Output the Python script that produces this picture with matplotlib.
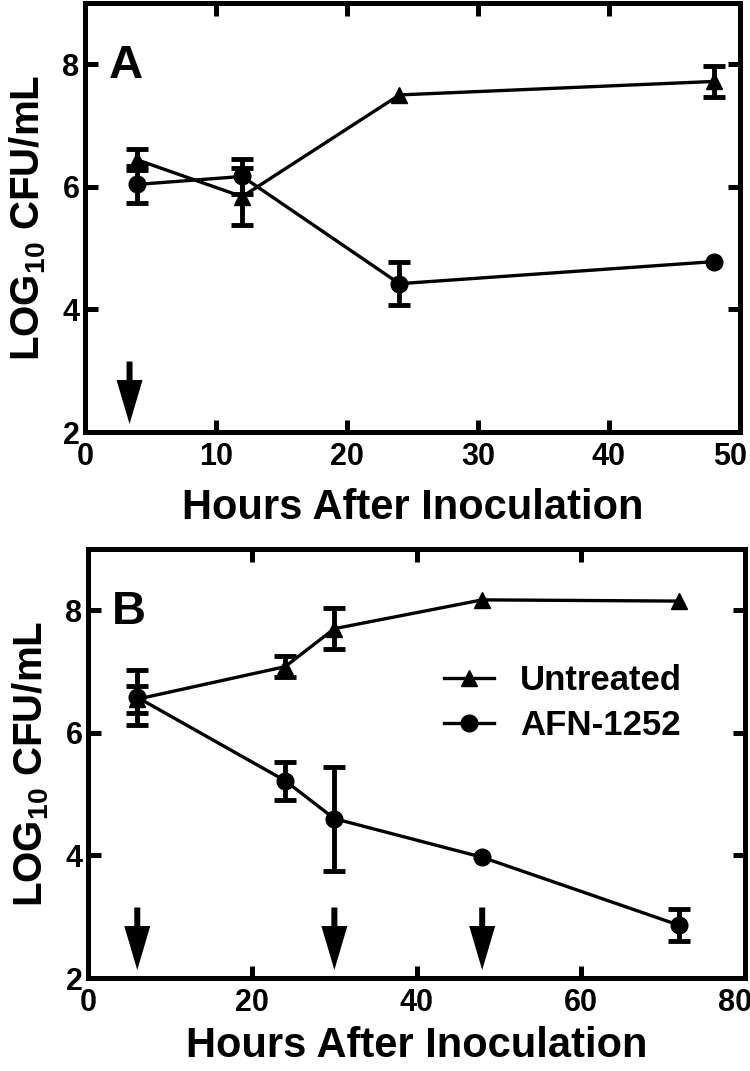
import numpy as np
import matplotlib
matplotlib.use("Agg")
import matplotlib.pyplot as plt
from matplotlib.transforms import ScaledTranslation

# panel A
hours_a = [4, 12, 24, 48]
untreated_a = [6.44, 5.84, 7.50, 7.72]
untreated_a_err = [0.17, 0.46, 0.0, 0.25]
afn_a = [6.04, 6.17, 4.42, 4.78]
afn_a_err = [0.30, 0.28, 0.35, 0.0]
arrows_a = [3.4]

# panel B
hours_b = [6, 24, 30, 48, 72]
untreated_b = [6.55, 7.08, 7.70, 8.17, 8.15]
untreated_b_err = [0.22, 0.17, 0.33, 0.0, 0.0]
afn_b = [6.58, 5.22, 4.60, 3.97, 2.86]
afn_b_err = [0.45, 0.31, 0.85, 0.0, 0.26]
arrows_b = [6, 30, 48]

arrow_top, arrow_tip = 3.15, 2.13

plt.rcParams['font.family'] = ['Liberation Sans', 'DejaVu Sans']
plt.rcParams['font.weight'] = 'bold'
plt.rcParams['mathtext.fontset'] = 'custom'
plt.rcParams['mathtext.bf'] = 'Liberation Sans:bold'
plt.rcParams['mathtext.rm'] = 'Liberation Sans:bold'

fig = plt.figure(figsize=(7.5, 10.71), dpi=100)
W, H = 750, 1071
ax_a = fig.add_axes([85 / W, 1 - 432 / H, 655 / W, 429 / H])
ax_b = fig.add_axes([88 / W, 1 - 978 / H, 657 / W, 429 / H])


def draw_series(ax, x, y, err, marker, ms, label):
    x = np.array(x)
    y = np.array(y)
    err = np.array(err)
    ax.plot(x, y, '-', color='black', lw=2.4, marker=marker, ms=ms, label=label, zorder=3)
    m = err > 0
    ax.errorbar(x[m], y[m], yerr=err[m], fmt='none', ecolor='black',
                elinewidth=3.5, capsize=8, capthick=3.5, zorder=2)


def style(ax, xmax, xstep, letter, xlabelpad):
    ax.set_xlim(0, xmax)
    ax.set_ylim(2, 9)
    ax.set_xticks(np.arange(0, xmax + 1, xstep))
    ax.set_yticks([2, 4, 6, 8])
    for s in ax.spines.values():
        s.set_linewidth(3.6)
    ax.tick_params(direction='in', length=9, width=3.6, top=True, right=True,
                   labelsize=22)
    ax.tick_params(axis='x', pad=7)
    ax.tick_params(axis='y', pad=4)
    for lab in ax.get_xticklabels() + ax.get_yticklabels():
        lab.set_fontweight('bold')
    # last x label sits at the figure edge
    last = ax.get_xticklabels()[-1]
    last.set_transform(last.get_transform() + ScaledTranslation(-10 / 100, 0, fig.dpi_scale_trans))
    ax.set_xlabel('Hours After Inoculation', fontsize=30, fontweight='bold', labelpad=xlabelpad)
    ax.set_ylabel(r'$\mathbf{LOG_{10}}$ CFU/mL', fontsize=29, fontweight='bold', labelpad=10)
    ax.text(0.036, 0.905, letter, transform=ax.transAxes, fontsize=34, fontweight='bold',
            va='top', ha='left')


def draw_arrows(ax, xs):
    # arrow sizes in pixels, converted to data units of this axes
    pos = ax.get_position()
    x0, x1 = ax.get_xlim()
    y0, y1 = ax.get_ylim()
    px_x = pos.width * W / (x1 - x0)
    px_y = pos.height * H / (y1 - y0)
    for xv in xs:
        ax.arrow(xv, arrow_top, 0, arrow_tip - arrow_top, width=6 / px_x,
                 head_width=26 / px_x, head_length=44 / px_y,
                 length_includes_head=True, color='black', lw=0, zorder=3)


draw_series(ax_a, hours_a, untreated_a, untreated_a_err, '^', 12, 'Untreated')
draw_series(ax_a, hours_a, afn_a, afn_a_err, 'o', 12, 'AFN-1252')
style(ax_a, 50, 10, 'A', 12)
draw_arrows(ax_a, arrows_a)

draw_series(ax_b, hours_b, untreated_b, untreated_b_err, '^', 12, 'Untreated')
draw_series(ax_b, hours_b, afn_b, afn_b_err, 'o', 12, 'AFN-1252')
style(ax_b, 80, 20, 'B', 6)
draw_arrows(ax_b, arrows_b)

leg = ax_b.legend(loc='upper left', bbox_to_anchor=(0.52, 0.764), frameon=False,
                  handlelength=1.45, handletextpad=0.75, labelspacing=0.35,
                  borderaxespad=0, prop={'weight': 'bold', 'size': 25})

fig.savefig('out.png', dpi=100)
